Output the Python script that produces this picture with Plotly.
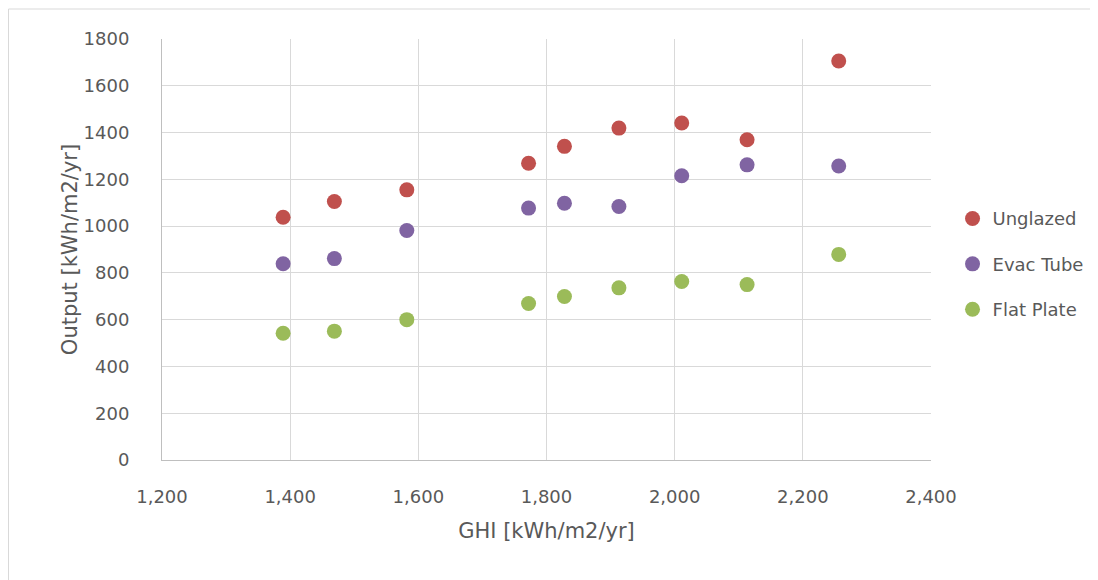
import plotly.graph_objects as go

ghi = [1389, 1469, 1582, 1772, 1828, 1913, 2011, 2113, 2256]
unglazed = [1038, 1105, 1155, 1269, 1341, 1419, 1441, 1369, 1706]
evac_tube = [839, 861, 981, 1077, 1098, 1084, 1215, 1262, 1257]
flat_plate = [542, 551, 600, 669, 699, 736, 763, 750, 879]

series = [
    ("Unglazed", unglazed, "#C0504D"),
    ("Evac Tube", evac_tube, "#8064A2"),
    ("Flat Plate", flat_plate, "#9BBB59"),
]

font_family = "DejaVu Sans, sans-serif"
txt = "#595959"

# plot area in figure pixels (page is offset by the 8px body margin)
L, T, R, B = 154, 31, 175, 128
pw, ph = 1098 - L - R, 580 - T - B

fig = go.Figure()
for name, vals, col in series:
    fig.add_trace(go.Scatter(
        x=ghi, y=vals, mode="markers", name=name, legendgroup=name,
        marker=dict(size=15, color=col, line=dict(width=0)),
    ))

fig.update_layout(
    width=1098, height=580,
    margin=dict(l=L, r=R, t=T, b=B),
    paper_bgcolor="white", plot_bgcolor="white",
    font=dict(family=font_family, color=txt, size=18),
    legend=dict(
        x=1.028, y=0.465, xanchor="left", yanchor="middle",
        font=dict(size=18, color=txt), traceorder="grouped",
        tracegroupgap=19, itemwidth=30,
    ),
    xaxis=dict(
        range=[1200, 2400], dtick=200, tickformat=",",
        showgrid=True, gridcolor="#D9D9D9", gridwidth=1,
        showline=True, linecolor="#BFBFBF", linewidth=1,
        zeroline=False, ticks="", ticklabelstandoff=20,
        tickfont=dict(size=18, color=txt),
        title=dict(text="GHI [kWh/m2/yr]", font=dict(size=21, color=txt), standoff=17),
    ),
    yaxis=dict(
        range=[0, 1800], dtick=200, tickformat="d",
        showgrid=True, gridcolor="#D9D9D9", gridwidth=1,
        showline=True, linecolor="#BFBFBF", linewidth=1,
        zeroline=False, ticks="", ticklabelstandoff=28,
        tickfont=dict(size=18, color=txt),
        title=dict(text="Output [kWh/m2/yr]", font=dict(size=21, color=txt), standoff=0),
    ),
    shapes=[dict(
        type="rect", xref="paper", yref="paper",
        x0=(0.5 - L) / pw, x1=(1084 - L) / pw,
        y0=-(B + 5) / ph, y1=(ph + T - 1) / ph,
        line=dict(color="#D9D9D9", width=1), fillcolor="rgba(0,0,0,0)", layer="below",
    )],
)

fig.write_html("out.html")
